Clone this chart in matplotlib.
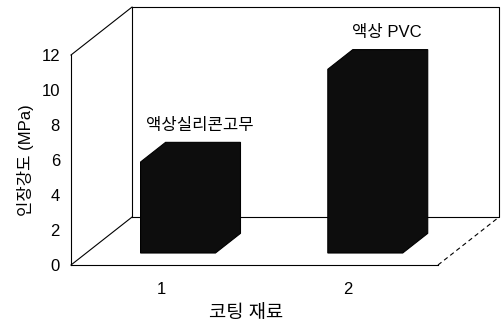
import matplotlib
matplotlib.use("Agg")
import matplotlib.pyplot as plt
from matplotlib.patches import Polygon

plt.rcParams["font.family"] = ["Liberation Sans", "Noto Sans CJK KR"]

# data
categories = [1, 2]
strength = [5.2, 10.5]          # 인장강도 (MPa)
bar_names = ["액상실리콘고무", "액상 PVC"]
yticks = [0, 2, 4, 6, 8, 10, 12]

# oblique depth vector (data units) and bar geometry
DX, DY = 0.326, 2.74
half_w = 0.2
d0, d1 = 0.25, 0.66
x0, x1 = 0.52, 2.48

fig = plt.figure(figsize=(5.02, 3.23), dpi=100)
ax = fig.add_axes([71/502, 58/323, 367/502, 210/323])
ax.set_xlim(x0, x1)
ax.set_ylim(0, 12)

line = dict(color="black", lw=0.8, clip_on=False)
# back wall
ax.plot([x0+DX, x0+DX, x1+DX, x1+DX, x0+DX], [DY, 12+DY, 12+DY, DY, DY], **line)
# left side edges
ax.plot([x0, x0+DX], [12, 12+DY], **line)
ax.plot([x0, x0+DX], [0, DY], **line)
# dashed right floor edge
ax.plot([x1, x1+DX], [0, DY], color="black", lw=0.8, ls=(0, (4, 3)), clip_on=False)

for c, v, name in zip(categories, strength, bar_names):
    xl = c - half_w + d0*DX + 0.01
    xr = c + half_w + d0*DX + 0.01
    yb = d0*DY
    yt = yb + v
    ddx, ddy = (d1-d0)*DX, (d1-d0)*DY
    pts = [(xl, yb), (xr, yb), (xr+ddx, yb+ddy), (xr+ddx, yt+ddy),
           (xl+ddx, yt+ddy), (xl, yt)]
    ax.add_patch(Polygon(pts, closed=True, fc="#0d0d0d", ec="black",
                         lw=0.8, zorder=3, clip_on=False))
    ax.text(c + (d0+d1)/2*DX + 0.06, v + d1*DY + 0.95, name,
            ha="center", va="center", fontsize=12)

for s in ["top", "right"]:
    ax.spines[s].set_visible(False)
ax.spines["left"].set_linewidth(0.8)
ax.spines["bottom"].set_linewidth(0.8)

ax.set_xticks(categories)
ax.set_yticks(yticks)
ax.tick_params(axis="both", length=0, labelsize=12)
ax.tick_params(axis="y", pad=8)
ax.tick_params(axis="x", pad=12)
ax.set_xlabel("코팅 재료", fontsize=13.5, labelpad=6, x=0.477)
ax.set_ylabel("인장강도 (MPa)", fontsize=12, labelpad=5)
ax.patch.set_alpha(0)

fig.savefig("out.png", dpi=100)
